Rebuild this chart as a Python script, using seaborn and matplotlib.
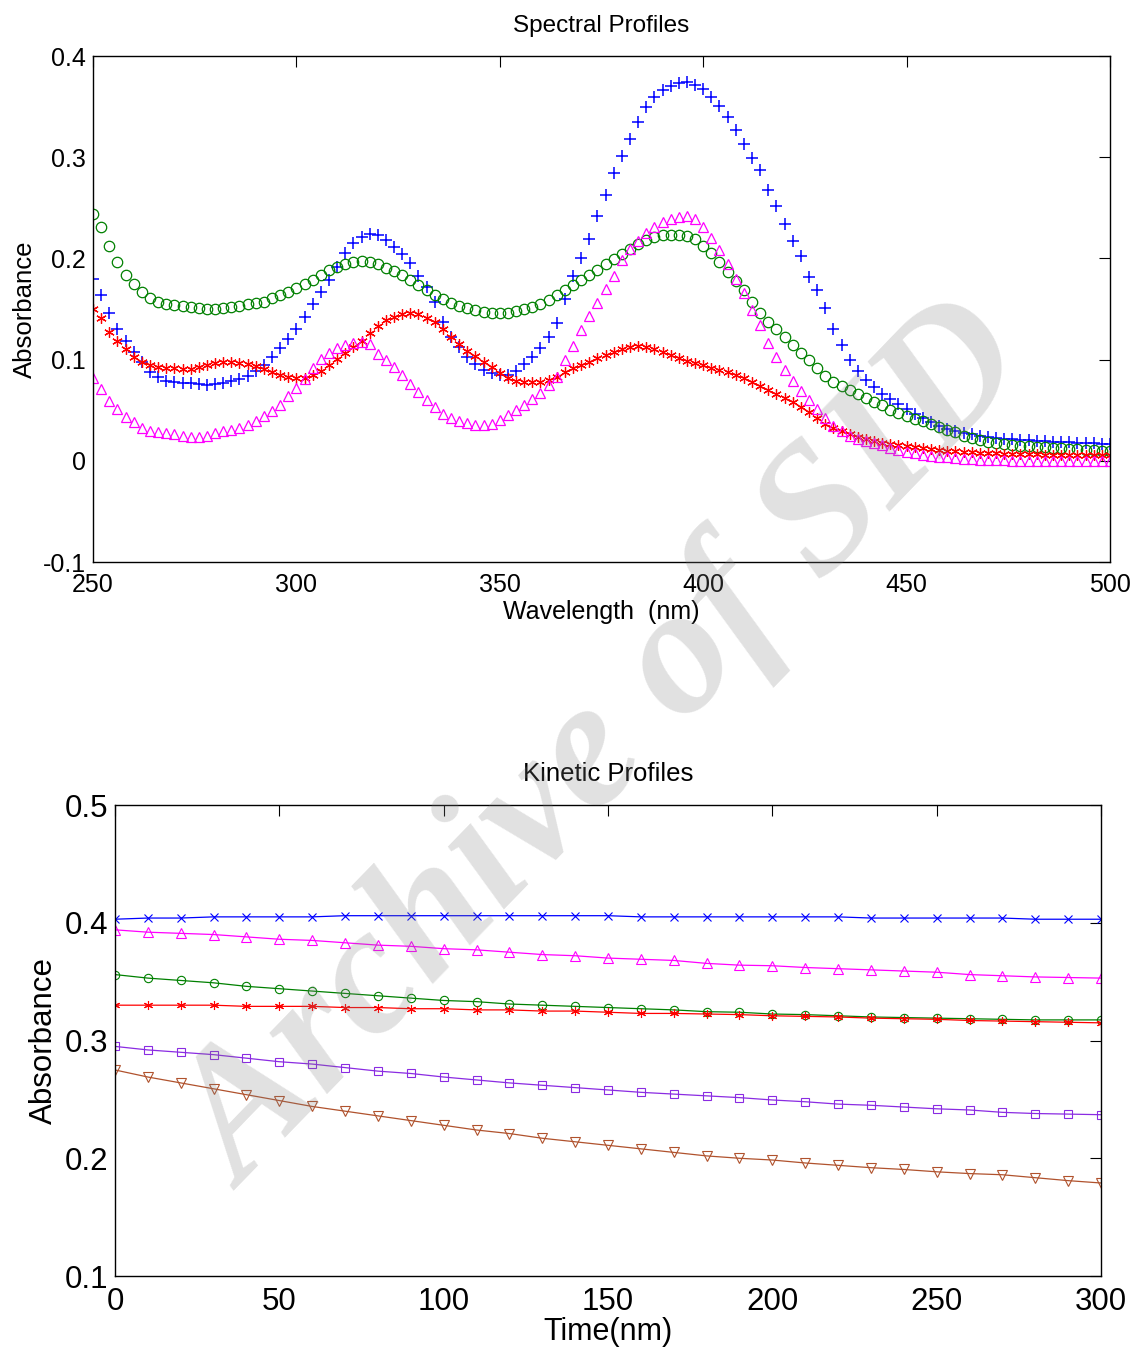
import numpy as np
import pandas as pd
import matplotlib
matplotlib.use("Agg")
import matplotlib.pyplot as plt
import seaborn as sns

# ---------------- data: spectral profiles (2 nm steps) ----------------
wavelength = list(range(250, 501, 2))

spec_blue = [0.180, 0.164, 0.146, 0.130, 0.118, 0.108, 0.098, 0.088, 0.083, 0.079,
             0.078, 0.077, 0.077, 0.076, 0.075, 0.076, 0.077, 0.079, 0.081, 0.084,
             0.089, 0.095, 0.103, 0.111, 0.120, 0.130, 0.142, 0.155, 0.167, 0.179,
             0.192, 0.205, 0.215, 0.221, 0.224, 0.223, 0.218, 0.211, 0.204, 0.195,
             0.183, 0.172, 0.157, 0.137, 0.122, 0.112, 0.103, 0.096, 0.090, 0.087,
             0.085, 0.085, 0.089, 0.096, 0.103, 0.111, 0.122, 0.136, 0.160, 0.183,
             0.200, 0.219, 0.242, 0.263, 0.284, 0.301, 0.318, 0.335, 0.350, 0.360,
             0.366, 0.370, 0.373, 0.374, 0.371, 0.367, 0.360, 0.351, 0.340, 0.327,
             0.313, 0.299, 0.287, 0.268, 0.252, 0.234, 0.217, 0.202, 0.182, 0.169,
             0.151, 0.130, 0.114, 0.100, 0.089, 0.080, 0.073, 0.066, 0.061, 0.056,
             0.051, 0.046, 0.042, 0.038, 0.034, 0.031, 0.029, 0.027, 0.026, 0.025,
             0.024, 0.023, 0.022, 0.022, 0.021, 0.021, 0.020, 0.020, 0.019, 0.019,
             0.019, 0.018, 0.018, 0.018, 0.017, 0.017]

spec_green = [0.244, 0.231, 0.212, 0.196, 0.184, 0.175, 0.167, 0.161, 0.157, 0.155,
              0.154, 0.153, 0.152, 0.151, 0.150, 0.150, 0.151, 0.152, 0.153, 0.155,
              0.156, 0.157, 0.161, 0.164, 0.167, 0.171, 0.175, 0.179, 0.184, 0.189,
              0.192, 0.194, 0.196, 0.197, 0.196, 0.194, 0.191, 0.188, 0.184, 0.179,
              0.174, 0.169, 0.164, 0.160, 0.156, 0.153, 0.151, 0.149, 0.147, 0.146,
              0.146, 0.146, 0.148, 0.150, 0.152, 0.155, 0.159, 0.164, 0.169, 0.174,
              0.179, 0.184, 0.189, 0.194, 0.199, 0.204, 0.209, 0.214, 0.218, 0.221,
              0.223, 0.223, 0.223, 0.222, 0.219, 0.212, 0.205, 0.196, 0.187, 0.178,
              0.169, 0.157, 0.146, 0.137, 0.130, 0.122, 0.114, 0.107, 0.100, 0.092,
              0.084, 0.078, 0.074, 0.070, 0.066, 0.062, 0.058, 0.055, 0.050, 0.047,
              0.044, 0.041, 0.039, 0.036, 0.033, 0.030, 0.028, 0.025, 0.023, 0.021,
              0.019, 0.018, 0.017, 0.016, 0.015, 0.015, 0.014, 0.014, 0.013, 0.013,
              0.012, 0.012, 0.011, 0.011, 0.010, 0.010]

spec_red = [0.150, 0.141, 0.127, 0.118, 0.110, 0.103, 0.098, 0.095, 0.093, 0.092,
            0.092, 0.091, 0.091, 0.093, 0.095, 0.097, 0.098, 0.098, 0.097, 0.096,
            0.094, 0.091, 0.088, 0.085, 0.083, 0.082, 0.082, 0.085, 0.089, 0.095,
            0.101, 0.107, 0.112, 0.118, 0.126, 0.133, 0.139, 0.142, 0.145, 0.146,
            0.145, 0.141, 0.137, 0.130, 0.122, 0.115, 0.109, 0.104, 0.098, 0.093,
            0.087, 0.082, 0.079, 0.078, 0.078, 0.078, 0.080, 0.083, 0.088, 0.092,
            0.095, 0.098, 0.102, 0.105, 0.108, 0.110, 0.112, 0.113, 0.112, 0.110,
            0.108, 0.105, 0.102, 0.099, 0.097, 0.095, 0.092, 0.090, 0.088, 0.085,
            0.082, 0.078, 0.074, 0.070, 0.066, 0.062, 0.058, 0.053, 0.048, 0.042,
            0.036, 0.032, 0.029, 0.026, 0.024, 0.022, 0.020, 0.018, 0.017, 0.016,
            0.015, 0.014, 0.013, 0.012, 0.011, 0.010, 0.010, 0.009, 0.009, 0.008,
            0.008, 0.008, 0.007, 0.007, 0.007, 0.007, 0.007, 0.006, 0.006, 0.006,
            0.006, 0.006, 0.006, 0.006, 0.006, 0.006]

spec_magenta = [0.082, 0.071, 0.059, 0.051, 0.043, 0.038, 0.032, 0.029, 0.028, 0.027,
                0.026, 0.025, 0.024, 0.024, 0.025, 0.027, 0.029, 0.030, 0.032, 0.035,
                0.039, 0.044, 0.049, 0.055, 0.064, 0.072, 0.081, 0.092, 0.101, 0.107,
                0.111, 0.114, 0.116, 0.117, 0.115, 0.106, 0.100, 0.093, 0.085, 0.076,
                0.068, 0.060, 0.053, 0.046, 0.042, 0.039, 0.037, 0.035, 0.035, 0.036,
                0.040, 0.045, 0.050, 0.055, 0.061, 0.067, 0.075, 0.083, 0.100, 0.113,
                0.129, 0.143, 0.156, 0.170, 0.183, 0.198, 0.209, 0.217, 0.225, 0.231,
                0.236, 0.239, 0.241, 0.242, 0.239, 0.231, 0.220, 0.208, 0.194, 0.180,
                0.166, 0.149, 0.134, 0.116, 0.103, 0.090, 0.079, 0.069, 0.060, 0.051,
                0.042, 0.034, 0.029, 0.025, 0.022, 0.020, 0.018, 0.016, 0.013, 0.011,
                0.009, 0.008, 0.006, 0.005, 0.004, 0.004, 0.003, 0.002, 0.002, 0.001,
                0.001, 0.001, 0.001, 0.000, 0.000, 0.000, 0.000, 0.000, 0.000, 0.000,
                0.000, 0.000, 0.000, 0.000, 0.000, 0.000]

# ---------------- data: kinetic profiles ----------------
time = list(range(0, 301, 10))

kin_blue = [0.403, 0.404, 0.404, 0.405, 0.405, 0.405, 0.405, 0.406, 0.406, 0.406,
            0.406, 0.406, 0.406, 0.406, 0.406, 0.406, 0.405, 0.405, 0.405, 0.405,
            0.405, 0.405, 0.405, 0.404, 0.404, 0.404, 0.404, 0.404, 0.403, 0.403, 0.403]
kin_magenta = [0.394, 0.392, 0.391, 0.390, 0.388, 0.386, 0.385, 0.383, 0.381, 0.380,
               0.378, 0.377, 0.375, 0.373, 0.372, 0.370, 0.369, 0.368, 0.3655, 0.364,
               0.3635, 0.362, 0.361, 0.360, 0.359, 0.358, 0.356, 0.355, 0.354, 0.3535, 0.353]
kin_green = [0.356, 0.353, 0.351, 0.349, 0.346, 0.344, 0.342, 0.340, 0.338, 0.336,
             0.334, 0.333, 0.331, 0.330, 0.329, 0.328, 0.327, 0.326, 0.3245, 0.324,
             0.3225, 0.322, 0.321, 0.320, 0.3195, 0.319, 0.3185, 0.318, 0.3175, 0.3175, 0.3175]
kin_red = [0.330, 0.330, 0.330, 0.330, 0.329, 0.329, 0.329, 0.328, 0.328, 0.327,
           0.327, 0.326, 0.326, 0.325, 0.325, 0.324, 0.323, 0.323, 0.3225, 0.322,
           0.321, 0.3205, 0.320, 0.319, 0.3185, 0.318, 0.317, 0.3165, 0.316, 0.3155, 0.315]
kin_purple = [0.295, 0.292, 0.290, 0.288, 0.285, 0.282, 0.280, 0.277, 0.274, 0.272,
              0.269, 0.2665, 0.264, 0.262, 0.260, 0.258, 0.256, 0.2545, 0.253, 0.2515,
              0.2495, 0.248, 0.246, 0.245, 0.2435, 0.242, 0.241, 0.239, 0.238, 0.2375, 0.237]
kin_brown = [0.275, 0.269, 0.264, 0.259, 0.254, 0.249, 0.244, 0.240, 0.236, 0.232,
             0.228, 0.224, 0.221, 0.217, 0.214, 0.211, 0.208, 0.205, 0.202, 0.200,
             0.1985, 0.196, 0.194, 0.192, 0.1905, 0.1885, 0.187, 0.186, 0.1835, 0.181, 0.179]

spec_xticks = [250, 300, 350, 400, 450, 500]
spec_yticks = [-0.1, 0, 0.1, 0.2, 0.3, 0.4]
spec_yticklabels = ["-0.1", "0", "0.1", "0.2", "0.3", "0.4"]
kin_xticks = [0, 50, 100, 150, 200, 250, 300]
kin_yticks = [0.1, 0.2, 0.3, 0.4, 0.5]
kin_yticklabels = ["0.1", "0.2", "0.3", "0.4", "0.5"]

# ---------------- style ----------------
sns.set_theme(style="white")
plt.rcParams["font.family"] = ["Liberation Sans", "DejaVu Sans"]
plt.rcParams["axes.edgecolor"] = "black"
plt.rcParams["axes.linewidth"] = 1.0
plt.rcParams["text.color"] = "black"
plt.rcParams["axes.labelcolor"] = "black"
plt.rcParams["xtick.color"] = "black"
plt.rcParams["ytick.color"] = "black"

fig = plt.figure(figsize=(11.36, 13.5), dpi=100)
ax1 = fig.add_axes([0.0819, 0.5837, 0.8952, 0.3748])
ax2 = fig.add_axes([0.1012, 0.0548, 0.8680, 0.3489])

asterisk = (6, 2, 0)

# ---------------- top panel ----------------
spec_series = [
    (spec_blue, "#0000FF", "+", 8.0, 1.1),
    (spec_green, "#008000", "o", 7.5, 0.9),
    (spec_red, "#FF0000", asterisk, 7.5, 0.9),
    (spec_magenta, "#FF00FF", "^", 7.5, 0.9),
]
for vals, col, mk, ms, mew in spec_series:
    df = pd.DataFrame({"x": wavelength, "y": vals})
    sns.lineplot(data=df, x="x", y="y", ax=ax1, color=col, marker=mk,
                 linestyle="none", markersize=ms, markerfacecolor="none",
                 markeredgecolor=col, markeredgewidth=mew, estimator=None,
                 sort=False, legend=False)

ax1.set_xlim(250, 500)
ax1.set_ylim(-0.1, 0.4)
ax1.set_xticks(spec_xticks)
ax1.set_yticks(spec_yticks)
ax1.set_yticklabels(spec_yticklabels)
ax1.tick_params(axis="both", direction="in", length=8, width=0.8, top=True,
                right=True, labelsize=18, colors="black")
ax1.tick_params(axis="x", pad=8)
ax1.tick_params(axis="y", pad=5)
ax1.set_title("Spectral Profiles", fontsize=17.5, pad=17)
ax1.set_xlabel("Wavelength  (nm)", fontsize=18, labelpad=2)
ax1.set_ylabel("Absorbance", fontsize=18.5, labelpad=4)

# ---------------- bottom panel ----------------
kin_series = [
    (kin_blue, "#0000FF", "x", 6.0),
    (kin_magenta, "#FF00FF", "^", 6.5),
    (kin_green, "#008000", "o", 6.0),
    (kin_red, "#FF0000", asterisk, 6.5),
    (kin_purple, "#8A2BE2", "s", 6.0),
    (kin_brown, "#B0522D", "v", 6.5),
]
for vals, col, mk, ms in kin_series:
    df = pd.DataFrame({"x": time, "y": vals})
    sns.lineplot(data=df, x="x", y="y", ax=ax2, color=col, marker=mk,
                 linewidth=0.9, markersize=ms, markerfacecolor="none",
                 markeredgecolor=col, markeredgewidth=0.8, estimator=None,
                 sort=False, legend=False)

ax2.set_xlim(0, 300)
ax2.set_ylim(0.1, 0.5)
ax2.set_xticks(kin_xticks)
ax2.set_yticks(kin_yticks)
ax2.set_yticklabels(kin_yticklabels)
ax2.tick_params(axis="both", direction="in", length=8, width=0.8, top=True,
                right=True, labelsize=22.5, colors="black")
ax2.tick_params(axis="x", pad=8)
ax2.tick_params(axis="y", pad=5)
ax2.set_title("Kinetic Profiles", fontsize=18.5, pad=17)
ax2.set_xlabel("Time(nm)", fontsize=22, labelpad=0)
ax2.set_ylabel("Absorbance", fontsize=22.5, labelpad=4)

for ax in (ax1, ax2):
    for sp in ax.spines.values():
        sp.set_visible(True)
        sp.set_color("black")
    ax.grid(False)

# ---------------- watermark ----------------
fig.text(0.535, 0.445, "Archive of SID", fontsize=132, color="gray", alpha=0.24,
         family=["Liberation Serif", "DejaVu Serif"], fontweight="bold",
         fontstyle="italic", rotation=46, ha="center", va="center",
         rotation_mode="anchor", zorder=10)

fig.savefig("out.png", dpi=100)
